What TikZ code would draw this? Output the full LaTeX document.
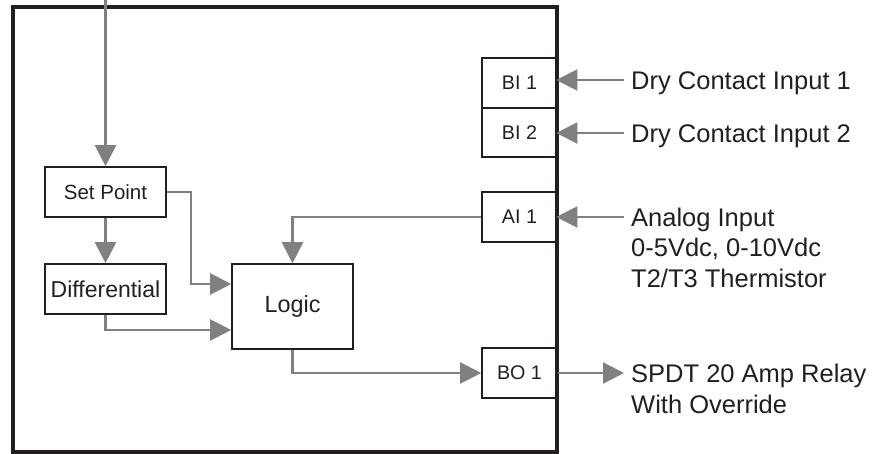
\documentclass[tikz,border=0pt]{standalone}
\usepackage{fontspec}
\setmainfont{Liberation Sans}
\usetikzlibrary{arrows.meta}
\definecolor{ink}{HTML}{231F20}
\definecolor{grayln}{HTML}{808080}
\tikzset{
  box/.style={draw=ink, line width=1.6pt, inner sep=0pt, text=ink},
  port/.style={box, minimum width=75pt, minimum height=49.5pt, font=\fontsize{19.7}{24}\selectfont},
  link/.style={draw=grayln, line width=2.2pt, -{Triangle[length=21pt,width=21pt,fill=grayln]}},
  lbl/.style={anchor=north west, inner xsep=7pt, inner ysep=0pt, align=left, text=ink, font=\fontsize{25.5}{30.5}\selectfont},
}

\begin{document}
\begin{tikzpicture}[x=1pt,y=-1pt]
  \useasboundingbox (0,0) rectangle (887,454);
  % controller housing
  \draw[ink, line width=3.2pt] (13,7) rectangle (557,452);

  % internal blocks
  \node[box, minimum width=121pt, minimum height=50pt, font=\fontsize{20.5}{24}\selectfont] (setpt) at (105.5,192) {Set Point};
  \node[box, minimum width=121pt, minimum height=50pt, font=\fontsize{23}{27}\selectfont] (diff) at (105.5,289) {Differential};
  \node[box, minimum width=121pt, minimum height=85pt, font=\fontsize{23.4}{27}\selectfont] (logic) at (292.5,306.5) {Logic};

  % terminals
  \node[port] (bi1) at (519.5,83) {BI 1};
  \node[port] (bi2) at (519.5,132.5) {BI 2};
  \node[port] (ai1) at (519.5,217) {AI 1};
  \node[port] (bo1) at (519.5,373) {BO 1};

  % field side
  \node[lbl] (dry1) at (624,71) {Dry Contact Input 1};
  \node[lbl] (dry2) at (624,124) {Dry Contact Input 2};
  \node[lbl] (ain) at (624,207.5) {Analog Input\\0-5Vdc, 0-10Vdc\\T2/T3 Thermistor};
  \node[lbl] (relay) at (624,364) {SPDT 20 Amp Relay\\With Override};

  % signal flow
  \coordinate (feed) at (105.5,0);
  \draw[link] (feed) -- (setpt.north);
  \draw[link] (setpt.south) -- (diff.north);
  \draw[link] (setpt.east) -| ([xshift=-40pt,yshift=22.5pt]logic.west) -- ([yshift=22.5pt]logic.west);
  \draw[link] (diff.south) |- ([yshift=-23.5pt]logic.west);
  \draw[link] (ai1.west) -| (logic.north);
  \draw[link] (logic.south) |- (bo1.west);

  \draw[link, shorten >=-1.5pt] ([yshift=-9pt]dry1.north west) coordinate (d1) -- (d1 -| bi1.east);
  \draw[link, shorten >=-1.5pt] ([yshift=-9pt]dry2.north west) coordinate (d2) -- (d2 -| bi2.east);
  \draw[link, shorten >=-1.5pt] ([yshift=-9.5pt]ain.north west) coordinate (a1) -- (a1 -| ai1.east);
  \draw[link] (bo1.east) -- ([yshift=-9pt]relay.north west);
\end{tikzpicture}
\end{document}
